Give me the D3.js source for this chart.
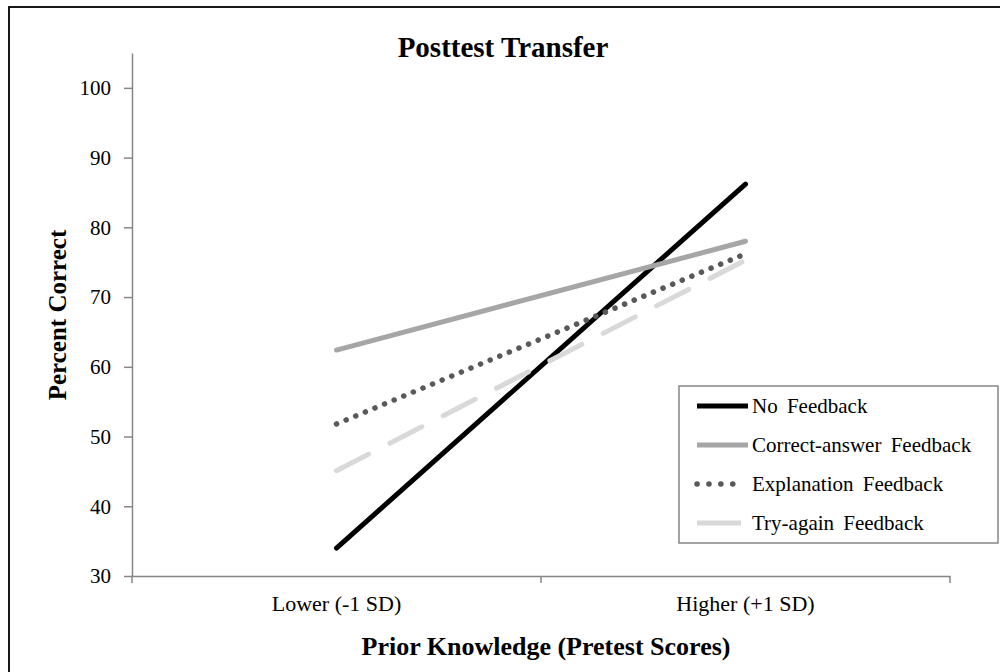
<!DOCTYPE html>
<html>
<head>
<meta charset="utf-8">
<script src="https://cdn.jsdelivr.net/npm/d3@7"></script>
<style>
  body { margin: 0; background: #fff; }
  text { font-family: "Liberation Serif", "Times New Roman", serif; fill: #000; }
</style>
</head>
<body>
<script>
// values
const categories = ["Lower (-1 SD)", "Higher (+1 SD)"];
const seriesNames = ["No Feedback", "Correct-answer Feedback", "Explanation Feedback", "Try-again Feedback"];
const noFeedback = [34.0, 86.2];
const correctAnswer = [62.4, 78.0];
const explanation = [51.8, 76.2];
const tryAgain = [45.1, 75.3];
const yTicks = [30, 40, 50, 60, 70, 80, 90, 100];

const seriesValues = [noFeedback, correctAnswer, explanation, tryAgain];
const lineStyles = [
  { color: "#000000", width: 5, dash: null },
  { color: "#a6a6a6", width: 5, dash: null },
  { color: "#595959", width: 5.5, dash: "0.1 10.3" },
  { color: "#d9d9d9", width: 5, dash: "36 24" }
];

const width = 1000, height = 672;
const svg = d3.select("body").append("svg")
  .attr("width", width).attr("height", height);

// outer chart frame (runs off the right/bottom edge)
svg.append("rect")
  .attr("x", 9).attr("y", 7)
  .attr("width", 1000).attr("height", 700)
  .attr("fill", "none").attr("stroke", "#000").attr("stroke-width", 1.8);

const x = d3.scaleBand().domain(categories).range([132, 950]).padding(0);
const y = d3.scaleLinear().domain([30, 105]).range([576, 53]);

// y axis
const yAxis = svg.append("g").attr("transform", "translate(132,0)")
  .call(d3.axisLeft(y).tickValues(yTicks).tickSize(8).tickSizeOuter(0).tickPadding(13));
yAxis.select(".domain").attr("stroke", "#868686").attr("stroke-width", 1.5);
yAxis.selectAll(".tick line").attr("stroke", "#868686").attr("stroke-width", 1.5);
yAxis.selectAll(".tick text").attr("font-size", 21).attr("font-family", "Liberation Serif").attr("fill", "#000");

// x axis
const xAxis = svg.append("g").attr("transform", "translate(0,576)")
  .call(d3.axisBottom(x).tickSize(0).tickSizeOuter(0).tickPadding(19));
xAxis.select(".domain").attr("stroke", "#868686").attr("stroke-width", 1.5);
xAxis.selectAll(".tick text").attr("font-size", 22).attr("font-family", "Liberation Serif").attr("fill", "#000");
// Excel style ticks between categories
const bounds = categories.map(c => x(c)).concat([x.range()[1]]);
xAxis.selectAll(".bound").data(bounds).enter().append("line")
  .attr("x1", d => d).attr("x2", d => d)
  .attr("y1", 0).attr("y2", 7)
  .attr("stroke", "#868686").attr("stroke-width", 1.5);

// series lines
const line = d3.line()
  .x((d, i) => x(categories[i]) + x.bandwidth() / 2)
  .y(d => y(d));

svg.append("g").selectAll("path").data(seriesValues).enter().append("path")
  .attr("d", d => line(d))
  .attr("fill", "none")
  .attr("stroke", (d, i) => lineStyles[i].color)
  .attr("stroke-width", (d, i) => lineStyles[i].width)
  .attr("stroke-linecap", "round")
  .attr("stroke-dasharray", (d, i) => lineStyles[i].dash);

// titles
svg.append("text").attr("x", 503).attr("y", 57)
  .attr("text-anchor", "middle").attr("font-size", 29).attr("font-weight", "bold")
  .text("Posttest Transfer");

svg.append("text").attr("x", 546).attr("y", 655)
  .attr("text-anchor", "middle").attr("font-size", 26).attr("font-weight", "bold")
  .text("Prior Knowledge (Pretest Scores)");

svg.append("text")
  .attr("transform", "translate(66,315) rotate(-90)")
  .attr("text-anchor", "middle").attr("font-size", 25).attr("font-weight", "bold")
  .text("Percent Correct");

// legend
const legend = svg.append("g").attr("transform", "translate(679,386)");
legend.append("rect").attr("width", 319).attr("height", 157)
  .attr("fill", "#fff").attr("stroke", "#868686").attr("stroke-width", 1.5);
const items = legend.selectAll(".legends").data(seriesNames).enter().append("g")
  .classed("legends", true)
  .attr("transform", (d, i) => "translate(0," + (20 + i * 39) + ")");
items.append("line")
  .attr("x1", 18).attr("x2", (d, i) => i === 3 ? 62 : (i === 2 ? 65.5 : 69))
  .attr("y1", 0).attr("y2", 0)
  .attr("stroke", (d, i) => lineStyles[i].color)
  .attr("stroke-width", (d, i) => lineStyles[i].width)
  .attr("stroke-linecap", (d, i) => i === 2 ? "round" : "butt")
  .attr("stroke-dasharray", (d, i) => i === 2 ? "0.1 11.8" : null);
items.append("text").attr("x", 73).attr("dy", "0.35em")
  .attr("font-size", 21)
  .attr("word-spacing", 4)
  .text(d => d);
</script>
</body>
</html>
